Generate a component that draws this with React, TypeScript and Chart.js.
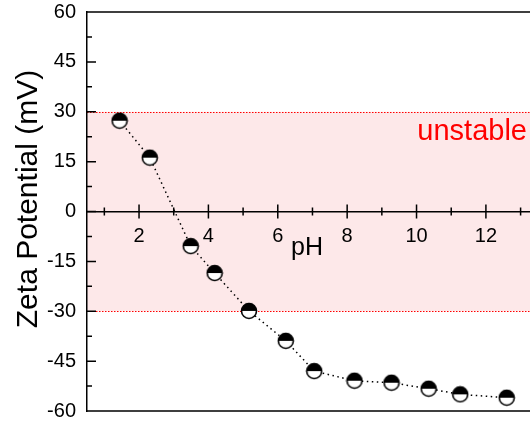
import React, { useEffect, useRef } from "react";
import { Chart, registerables } from "chart.js";

Chart.register(...registerables);

// ---- data ----
const phValues = [1.44, 2.31, 3.49, 4.18, 5.17, 6.23, 7.05, 8.21, 9.28, 10.35, 11.26, 12.6];
const zetaValues = [27.3, 16.2, -10.4, -18.5, -29.9, -38.9, -48.0, -50.9, -51.5, -53.3, -55.0, -56.0];

const yMajorTicks = [-60, -45, -30, -15, 0, 15, 30, 45, 60];
const yMinorTicks = [-52.5, -37.5, -22.5, -7.5, 7.5, 22.5, 37.5, 52.5];
const xMajorTicks = [2, 4, 6, 8, 10, 12];
const xMinorTicks = [1, 3, 5, 7, 9, 11, 13];
const unstableRange = [-30, 30];

const xTitle = "pH";
const yTitle = "Zeta Potential (mV)";
const bandLabel = "unstable";

const FONT = "'Liberation Sans', Arial, sans-serif";

function makeMarker(): HTMLCanvasElement {
  const c = document.createElement("canvas");
  const s = 18;
  c.width = s;
  c.height = s;
  const ctx = c.getContext("2d")!;
  const m = s / 2;
  const r = 7.5;
  ctx.beginPath();
  ctx.arc(m, m, r, 0, Math.PI);
  ctx.closePath();
  ctx.fillStyle = "#fff";
  ctx.fill();
  ctx.beginPath();
  ctx.arc(m, m, r, Math.PI, 2 * Math.PI);
  ctx.closePath();
  ctx.fillStyle = "#000";
  ctx.fill();
  ctx.beginPath();
  ctx.arc(m, m, r, 0, 2 * Math.PI);
  ctx.lineWidth = 1.6;
  ctx.strokeStyle = "#000";
  ctx.stroke();
  return c;
}

const zeroPad = (s: any) => {
  s.paddingTop = 0;
  s.paddingBottom = 0;
  s.paddingLeft = 0;
  s.paddingRight = 0;
};

const overlayPlugin = {
  id: "overlay",
  beforeDraw(chart: any) {
    const { ctx, chartArea } = chart;
    const y = chart.scales.y;
    const top = y.getPixelForValue(unstableRange[1]);
    const bot = y.getPixelForValue(unstableRange[0]);
    ctx.save();
    ctx.fillStyle = "rgb(253,232,233)";
    ctx.fillRect(chartArea.left, top, chartArea.right - chartArea.left, bot - top);
    ctx.strokeStyle = "#ff0000";
    ctx.lineWidth = 1;
    ctx.setLineDash([1.5, 1.5]);
    ctx.beginPath();
    ctx.moveTo(chartArea.left, Math.round(top) + 0.5);
    ctx.lineTo(chartArea.right, Math.round(top) + 0.5);
    ctx.moveTo(chartArea.left, Math.round(bot) + 0.5);
    ctx.lineTo(chartArea.right, Math.round(bot) + 0.5);
    ctx.stroke();
    ctx.restore();

    ctx.save();
    ctx.fillStyle = "#ff0000";
    ctx.font = `29px ${FONT}`;
    ctx.textAlign = "right";
    ctx.textBaseline = "alphabetic";
    ctx.fillText(bandLabel, 527, y.getPixelForValue(21.5));
    ctx.restore();
  },
  beforeDatasetsDraw(chart: any) {
    const { ctx, chartArea } = chart;
    const x = chart.scales.x;
    const y = chart.scales.y;
    ctx.save();
    ctx.strokeStyle = "#000";
    ctx.lineWidth = 1.5;
    ctx.setLineDash([]);
    ctx.beginPath();
    // top & bottom frame
    ctx.moveTo(chartArea.left, chartArea.top);
    ctx.lineTo(chartArea.right, chartArea.top);
    ctx.moveTo(chartArea.left, chartArea.bottom);
    ctx.lineTo(chartArea.right, chartArea.bottom);
    // y ticks (inward)
    yMajorTicks.forEach((v) => {
      const p = y.getPixelForValue(v);
      ctx.moveTo(chartArea.left, p);
      ctx.lineTo(chartArea.left + 9, p);
    });
    yMinorTicks.forEach((v) => {
      const p = y.getPixelForValue(v);
      ctx.moveTo(chartArea.left, p);
      ctx.lineTo(chartArea.left + 5, p);
    });
    // x ticks crossing the zero axis
    const y0 = y.getPixelForValue(0);
    xMajorTicks.forEach((v) => {
      const p = x.getPixelForValue(v);
      ctx.moveTo(p, y0 - 7);
      ctx.lineTo(p, y0 + 7);
    });
    xMinorTicks.forEach((v) => {
      const p = x.getPixelForValue(v);
      ctx.moveTo(p, y0 - 4);
      ctx.lineTo(p, y0 + 4);
    });
    ctx.stroke();

    // titles
    ctx.fillStyle = "#000";
    ctx.font = `25px ${FONT}`;
    ctx.textAlign = "center";
    ctx.textBaseline = "alphabetic";
    ctx.fillText(xTitle, 307, y0 + 43);

    ctx.save();
    ctx.translate(37, 199);
    ctx.rotate(-Math.PI / 2);
    ctx.font = `30px ${FONT}`;
    ctx.fillText(yTitle, 0, 0);
    ctx.restore();
    ctx.restore();
  },
};

export default function App() {
  const ref = useRef<HTMLCanvasElement | null>(null);
  useEffect(() => {
    if (!ref.current) return;
    const marker = makeMarker();
    const chart = new Chart(ref.current, {
      type: "scatter",
      data: {
        datasets: [
          {
            data: phValues.map((v, i) => ({ x: v, y: zetaValues[i] })),
            showLine: true,
            borderColor: "#000",
            borderWidth: 1.5,
            borderDash: [1.5, 3.5],
            pointStyle: marker as any,
            pointRadius: 7.5,
            pointHoverRadius: 7.5,
            tension: 0,
          },
        ],
      },
      options: {
        animation: false,
        responsive: false,
        events: [],
        layout: { padding: { top: 12, bottom: 13, left: 0, right: 0 } },
        plugins: { legend: { display: false }, tooltip: { enabled: false } },
        scales: {
          x: {
            type: "linear",
            min: 0.5,
            max: 13.3,
            position: { y: 0 } as any,
            grid: { display: false, drawTicks: false },
            border: { display: true, color: "#000", width: 1.5 },
            afterBuildTicks: (s: any) => {
              s.ticks = xMajorTicks.map((v) => ({ value: v }));
            },
            afterFit: zeroPad,
            ticks: {
              color: "#000",
              font: { family: FONT, size: 20 },
              padding: 13,
              maxRotation: 0,
              autoSkip: false,
            },
          },
          y: {
            type: "linear",
            min: -60,
            max: 60,
            position: "left",
            grid: { display: false, drawTicks: false },
            border: { display: true, color: "#000", width: 1.5 },
            afterBuildTicks: (s: any) => {
              s.ticks = yMajorTicks.map((v) => ({ value: v }));
            },
            afterFit: (s: any) => {
              s.width = 87;
              zeroPad(s);
            },
            ticks: {
              color: "#000",
              font: { family: FONT, size: 20 },
              padding: 11,
              autoSkip: false,
            },
          },
        },
      },
      plugins: [overlayPlugin],
    });
    return () => chart.destroy();
  }, []);
  return (
    <div style={{ position: "fixed", left: 0, top: 0, width: 530, height: 424, overflow: "hidden", background: "#fff" }}>
      <canvas ref={ref} width={540} height={424} style={{ width: 540, height: 424 }} />
    </div>
  );
}
